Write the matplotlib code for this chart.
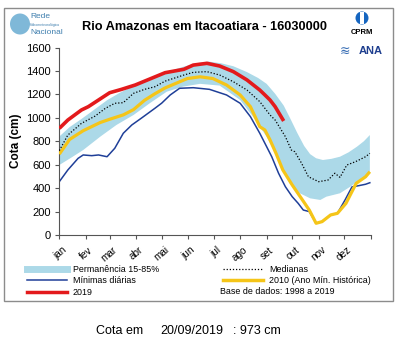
import matplotlib
matplotlib.use("Agg")
import matplotlib.pyplot as plt
import numpy as np
from matplotlib.lines import Line2D
from matplotlib.patches import Rectangle, Ellipse

plt.rcParams['font.family'] = ['Liberation Sans', 'DejaVu Sans']

# ---------------- data (day of year, cota in cm) ----------------
months = ['jan', 'fev', 'mar', 'abr', 'mai', 'jun', 'jul', 'ago', 'set', 'out', 'nov', 'dez']
month_start = [0, 31, 59, 90, 120, 151, 181, 212, 243, 273, 304, 334, 365]
y_ticks = [0, 200, 400, 600, 800, 1000, 1200, 1400, 1600]

band_up_day = [0, 12, 26, 42, 56, 70, 85, 100, 115, 130, 145, 160, 175, 190, 204, 220, 233,
               243, 253, 263, 271, 279, 287, 294, 301, 309, 319, 329, 339, 349, 357, 364]
band_up_val = [840, 920, 990, 1075, 1150, 1210, 1265, 1310, 1360, 1400, 1435, 1465, 1480, 1465,
               1440, 1390, 1340, 1290, 1205, 1105, 990, 870, 760, 690, 655, 640, 650, 668, 705,
               754, 800, 853]
band_lo_day = [0, 14, 28, 48, 67, 87, 106, 126, 145, 165, 188, 212, 227, 243, 258, 270, 282,
               294, 306, 313, 329, 341, 352, 364]
band_lo_val = [597, 660, 725, 839, 939, 1024, 1124, 1223, 1266, 1290, 1275, 1152, 1010, 839,
               640, 441, 356, 313, 299, 327, 356, 412, 469, 526]

med_day = [0, 10, 26, 42, 54, 65, 75, 87, 100, 112, 124, 146, 157, 173, 188, 204, 220, 235,
           241, 247, 253, 265, 272, 276, 284, 292, 304, 315, 323, 329, 337, 347, 359, 364]
med_val = [720, 853, 953, 1015, 1081, 1124, 1129, 1209, 1243, 1265, 1313, 1365, 1388, 1394,
           1365, 1308, 1237, 1138, 1081, 1024, 981, 839, 725, 711, 612, 497, 455, 469, 527,
           492, 597, 625, 668, 697]

min_day = [0, 10, 22, 28, 38, 46, 56, 65, 75, 85, 96, 112, 120, 130, 141, 157, 176, 196, 212,
           224, 235, 243, 249, 257, 265, 273, 280, 286, 293, 301, 308, 318, 326, 335, 343,
           351, 359, 364]
min_val = [455, 555, 654, 683, 677, 683, 668, 740, 868, 939, 996, 1081, 1125, 1195, 1252,
           1257, 1243, 1195, 1124, 1010, 868, 754, 668, 527, 412, 327, 270, 213, 200, 100,
           114, 171, 185, 300, 410, 421, 433, 446]

y2010_day = [0, 12, 28, 48, 60, 75, 87, 100, 112, 124, 137, 150, 165, 180, 196, 212, 224,
             235, 241, 247, 254, 262, 273, 285, 293, 301, 308, 318, 326, 336, 348, 359, 364]
y2010_val = [690, 815, 890, 960, 990, 1025, 1070, 1150, 1205, 1255, 1295, 1335, 1350, 1335,
             1280, 1195, 1095, 924, 896, 811, 697, 555, 427, 299, 213, 100, 114, 171, 185,
             270, 441, 497, 540]

y2019_day = [0, 10, 26, 34, 46, 59, 73, 89, 108, 124, 146, 157, 173, 188, 204, 220, 235,
             241, 247, 253, 263]
y2019_val = [910, 981, 1067, 1095, 1152, 1214, 1243, 1280, 1337, 1385, 1414, 1450, 1465, 1442,
             1394, 1323, 1237, 1195, 1152, 1095, 973]

title = 'Rio Amazonas em Itacoatiara - 16030000'
cota_date = '20/09/2019'
cota_val = 973

# ---------------- colours ----------------
c_band = '#acd9e8'
c_min = '#1f3f98'
c_2010 = '#f5c518'
c_2019 = '#e31a1c'

W, H = 403, 356
fig = plt.figure(figsize=(W / 100, H / 100), dpi=100)
fig.patch.set_facecolor('white')

def fx(px):
    return px / W

def fy(py):
    return 1 - py / H

# outer frame
fig.add_artist(Rectangle((fx(4), fy(300.5)), fx(393) - fx(4), fy(8) - fy(300.5),
                         transform=fig.transFigure, fill=False, edgecolor='#8c8c8c', lw=1))

ax = fig.add_axes([fx(59.3), fy(235), fx(370.7) - fx(59.3), fy(47.5) - fy(235)])

ax.fill(np.concatenate([band_up_day, band_lo_day[::-1]]),
        np.concatenate([band_up_val, band_lo_val[::-1]]),
        color=c_band, lw=0, zorder=1)
ax.plot(min_day, min_val, color=c_min, lw=1.1, zorder=2)
ax.plot(y2010_day, y2010_val, color=c_2010, lw=2.3, zorder=3, solid_capstyle='butt')
ax.plot(med_day, med_val, color='black', lw=0.9, ls=(0, (1, 1.5)), zorder=4)
ax.plot(y2019_day, y2019_val, color=c_2019, lw=2.6, zorder=5, solid_capstyle='butt')

ax.set_xlim(0, 365)
ax.set_ylim(0, 1600)
ax.set_yticks(y_ticks)
ax.set_yticklabels([str(v) for v in y_ticks], fontsize=8)
ax.set_xticks(month_start)
ax.set_xticklabels([])
for i, m in enumerate(months):
    ax.text(month_start[i] + 3, -85, m, rotation=40, ha='right', va='top',
            rotation_mode='anchor', fontsize=7.2, transform=ax.transData, clip_on=False)
for s in ['top', 'right']:
    ax.spines[s].set_visible(False)
for s in ['left', 'bottom']:
    ax.spines[s].set_color('#555555')
    ax.spines[s].set_linewidth(0.8)
ax.tick_params(axis='both', direction='out', length=3, width=0.8, color='#555555', pad=3)
ax.set_ylabel('Cota (cm)', fontsize=8.5, fontweight='bold', labelpad=3)

# title
fig.text(fx(204), fy(27), title, ha='center', va='center', fontsize=9.2, fontweight='bold')

# legend
handles = [Line2D([], [], color=c_band, lw=5),
           Line2D([], [], color=c_min, lw=1.1),
           Line2D([], [], color=c_2019, lw=2.5),
           Line2D([], [], color='black', lw=0.9, ls=(0, (1, 1.5))),
           Line2D([], [], color=c_2010, lw=2.5)]
labels = ['Permanência 15-85%', 'Mínimas diárias', '2019', 'Medianas',
          '2010 (Ano Mín. Histórica)']
fig.legend(handles, labels, loc='upper left', bbox_to_anchor=(fx(27), fy(265)), ncol=2,
           frameon=False, fontsize=6.4, handlelength=4.5, handletextpad=0.65,
           columnspacing=7.2, labelspacing=0.28, borderpad=0, borderaxespad=0)
fig.text(fx(220), fy(292), 'Base de dados: 1998 a 2019', fontsize=6.4, va='center', ha='left')

# bottom current value
fig.text(fx(96), fy(331), 'Cota em', fontsize=9, va='center', ha='left')
fig.text(fx(160), fy(331), cota_date, fontsize=9, va='center', ha='left')
fig.text(fx(233), fy(331), ': %d cm' % cota_val, fontsize=9, va='center', ha='left')

# logos (decorative approximations)
fig.add_artist(Ellipse((fx(20), fy(24)), fx(20), fy(0) - fy(21), transform=fig.transFigure,
                       color='#7fb8d8', lw=0))
fig.text(fx(30), fy(17), 'Rede', fontsize=6, color='#3f7fae', va='center')
fig.text(fx(30), fy(25), 'Hidrometeorológica', fontsize=2.5, color='#3f7fae', va='center')
fig.text(fx(30), fy(32), 'Nacional', fontsize=6, color='#3f7fae', va='center')

fig.add_artist(Ellipse((fx(362), fy(18)), fx(13), fy(0) - fy(13), transform=fig.transFigure,
                       color='#1565c0', lw=0))
fig.add_artist(Rectangle((fx(360), fy(24)), fx(4), fy(0) - fy(12), transform=fig.transFigure,
                         color='white', lw=0))
fig.text(fx(362), fy(32), 'CPRM', fontsize=5.5, fontweight='bold', ha='center', va='center')
fig.text(fx(345), fy(51), '≋', fontsize=9, color='#3a6fb5', ha='center', va='center',
         family=['DejaVu Sans'])
fig.text(fx(371), fy(51), 'ANA', fontsize=8, fontweight='bold', color='#1f3f8f',
         ha='center', va='center')

fig.savefig('out.png', dpi=100, facecolor='white')
